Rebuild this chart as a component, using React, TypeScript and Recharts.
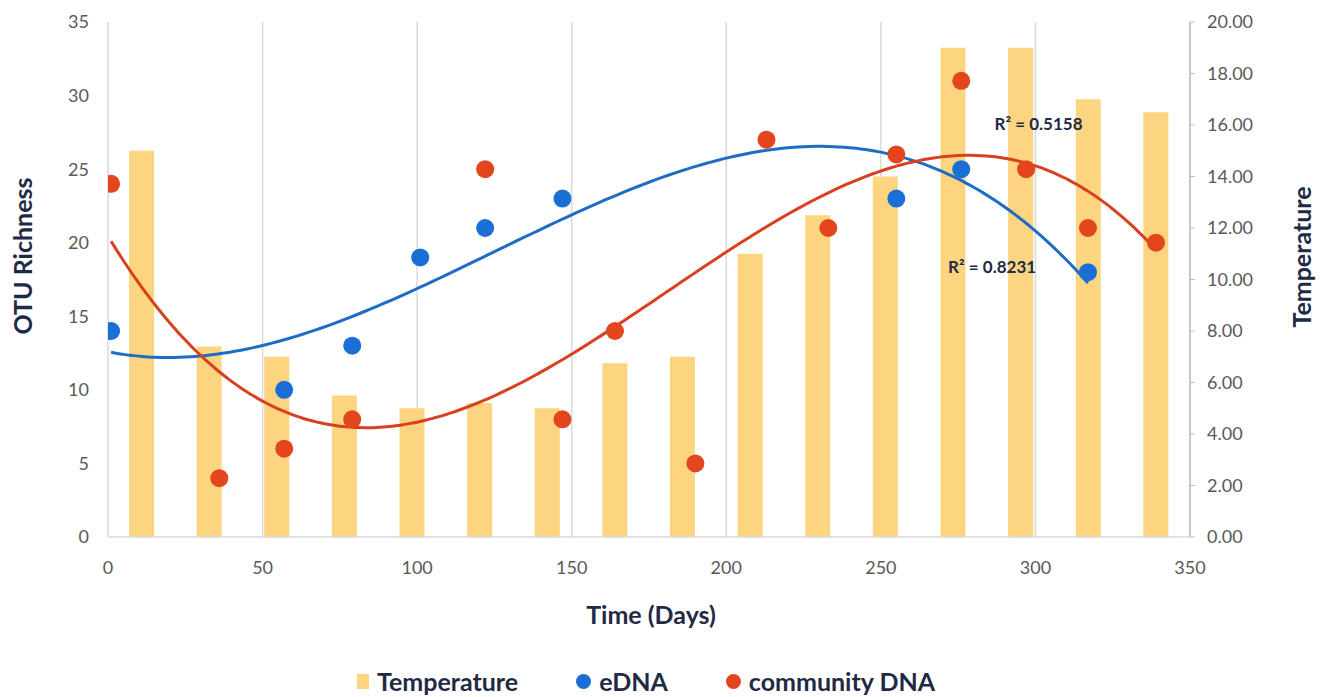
import {
  Bar,
  CartesianGrid,
  ComposedChart,
  Legend,
  Line,
  ReferenceDot,
  Scatter,
  XAxis,
  YAxis,
} from "recharts";

// temperature bars, one per sampling occasion (category axis)
const sampleNames = ["1", "2", "3", "4", "5", "6", "7", "8", "9", "10", "11", "12", "13", "14", "15", "16"];
const temperature = [15.0, 7.4, 7.0, 5.5, 5.0, 5.2, 5.0, 6.75, 7.0, 11.0, 12.5, 14.0, 19.0, 19.0, 17.0, 16.5];

// OTU richness points (numeric time axis)
const ednaDays = [1, 57, 79, 101, 122, 147, 255, 276, 317];
const ednaOtu = [14, 10, 13, 19, 21, 23, 23, 25, 18];
const cdnaDays = [1, 36, 57, 79, 122, 147, 164, 190, 213, 233, 255, 276, 297, 317, 339];
const cdnaOtu = [24, 4, 6, 8, 25, 8, 14, 5, 27, 21, 26, 31, 25, 21, 20];

const xTicks = [0, 50, 100, 150, 200, 250, 300, 350];
const leftTicks = [0, 5, 10, 15, 20, 25, 30, 35];
const rightTicks = [0, 2, 4, 6, 8, 10, 12, 14, 16, 18, 20];

const ednaR2 = "R² = 0.8231";
const cdnaR2 = "R² = 0.5158";

const BAR = "#fdd580";
const BLUE = "#1a6fd6";
const BLUE_LINE = "#1f6cc4";
const RED = "#e3451c";
const RED_LINE = "#d9401f";
const NAVY = "#1f2a44";
const TICK = "#595959";
const FONT = "Lato, 'Open Sans', sans-serif";

// 3rd order polynomial trendline, least squares (like Excel's trendline)
const fitCubic = (xs: number[], ys: number[]) => {
  const n = 4;
  const A: number[][] = Array.from({ length: n }, () => Array(n + 1).fill(0));
  xs.forEach((x, k) => {
    const t = x / 100;
    for (let i = 0; i < n; i++) {
      for (let j = 0; j < n; j++) A[i][j] += t ** (i + j);
      A[i][n] += t ** i * ys[k];
    }
  });
  for (let c = 0; c < n; c++) {
    let p = c;
    for (let r = c + 1; r < n; r++) if (Math.abs(A[r][c]) > Math.abs(A[p][c])) p = r;
    [A[c], A[p]] = [A[p], A[c]];
    for (let r = 0; r < n; r++) {
      if (r === c) continue;
      const f = A[r][c] / A[c][c];
      for (let k = c; k <= n; k++) A[r][k] -= f * A[c][k];
    }
  }
  const coef = A.map((row, i) => row[n] / row[i]);
  return (x: number) => coef.reduce((s, c, i) => s + c * (x / 100) ** i, 0);
};

const trendPoints = (xs: number[], ys: number[]) => {
  const f = fitCubic(xs, ys);
  const lo = Math.min(...xs);
  const hi = Math.max(...xs);
  const pts: { day: number; otu: number }[] = [];
  for (let d = lo; d < hi; d += 2) pts.push({ day: d, otu: f(d) });
  pts.push({ day: hi, otu: f(hi) });
  return pts;
};

const barData = sampleNames.map((s, i) => ({ sample: s, temp: temperature[i] }));
const ednaData = ednaDays.map((d, i) => ({ day: d, otu: ednaOtu[i] }));
const cdnaData = cdnaDays.map((d, i) => ({ day: d, otu: cdnaOtu[i] }));
const ednaTrend = trendPoints(ednaDays, ednaOtu);
const cdnaTrend = trendPoints(cdnaDays, cdnaOtu);

const dot = (color: string) => (p: any) => (
  <circle cx={p.cx} cy={p.cy} r={9} fill={color} />
);

const legendItems = [
  { name: "Temperature", color: BAR, square: true },
  { name: "eDNA", color: BLUE, square: false },
  { name: "community DNA", color: RED, square: false },
];

const renderLegend = () => (
  <div
    style={{
      height: 32,
      display: "flex",
      justifyContent: "center",
      alignItems: "center",
      gap: 58,
      paddingRight: 38,
      fontFamily: FONT,
      fontWeight: 700,
      fontSize: 25,
      color: NAVY,
    }}
  >
    {legendItems.map((it) => (
      <div key={it.name} style={{ display: "flex", alignItems: "center", gap: 8 }}>
        <span
          style={{
            display: "inline-block",
            width: it.square ? 12 : 15,
            height: it.square ? 15 : 15,
            borderRadius: it.square ? 0 : "50%",
            background: it.color,
          }}
        />
        {it.name}
      </div>
    ))}
  </div>
);

const axisTitles = () => (
  <g fontFamily={FONT} fontWeight={700} fontSize={25} fill={NAVY}>
    <text x={32} y={256} textAnchor="middle" transform="rotate(-90, 32, 256)">
      OTU Richness
    </text>
    <text x={1311} y={257} textAnchor="middle" transform="rotate(-90, 1311, 257)">
      Temperature
    </text>
    <text x={651} y={624} textAnchor="middle">
      Time (Days)
    </text>
  </g>
);

const r2Label = (text: string) => (p: any) => (
  <text
    x={p.viewBox.x}
    y={p.viewBox.y + 6}
    textAnchor="middle"
    fontFamily={FONT}
    fontWeight={700}
    fontSize={17}
    fill={NAVY}
  >
    {text}
  </text>
);

const App = () => {
  return (
    <div style={{ position: "absolute", left: 0, top: 0, background: "#fff" }}>
      <ComposedChart
        width={1330}
        height={697}
        data={barData}
        margin={{ top: 22, right: 0, bottom: 0, left: 0 }}
      >
        <CartesianGrid
          xAxisId="num"
          yAxisId="left"
          horizontal={false}
          stroke="#d9d9d9"
          strokeWidth={1.5}
        />
        <XAxis xAxisId="cat" dataKey="sample" type="category" hide height={0} />
        <XAxis
          xAxisId="num"
          dataKey="day"
          type="number"
          domain={[0, 350]}
          ticks={xTicks}
          allowDataOverflow
          height={128}
          axisLine={{ stroke: "#d9d9d9", strokeWidth: 1.5 }}
          tickLine={false}
          tickSize={0}
          tickMargin={24}
          tick={{ fill: TICK, fontSize: 18, fontFamily: FONT }}
        />
        <YAxis
          yAxisId="left"
          domain={[0, 35]}
          ticks={leftTicks}
          width={108}
          axisLine={false}
          tickLine={false}
          tickSize={0}
          tickMargin={19}
          tick={{ fill: TICK, fontSize: 18, fontFamily: FONT }}
        />
        <YAxis
          yAxisId="right"
          orientation="right"
          domain={[0, 20]}
          ticks={rightTicks}
          width={140}
          tickFormatter={(v: number) => v.toFixed(2)}
          axisLine={{ stroke: "#bfbfbf", strokeWidth: 1.5 }}
          tickLine={{ stroke: "#bfbfbf" }}
          tickSize={5}
          tickMargin={12}
          tick={{ fill: TICK, fontSize: 18, fontFamily: FONT }}
        />
        <Bar
          xAxisId="cat"
          yAxisId="right"
          dataKey="temp"
          name="Temperature"
          fill={BAR}
          barSize={25}
          isAnimationActive={false}
        />
        <Scatter
          xAxisId="num"
          yAxisId="left"
          data={ednaData}
          dataKey="otu"
          name="eDNA"
          shape={dot(BLUE)}
          isAnimationActive={false}
        />
        <Scatter
          xAxisId="num"
          yAxisId="left"
          data={cdnaData}
          dataKey="otu"
          name="community DNA"
          shape={dot(RED)}
          isAnimationActive={false}
        />
        <Line
          xAxisId="num"
          yAxisId="left"
          data={ednaTrend}
          dataKey="otu"
          type="monotone"
          stroke={BLUE_LINE}
          strokeWidth={3}
          dot={false}
          activeDot={false}
          legendType="none"
          isAnimationActive={false}
        />
        <Line
          xAxisId="num"
          yAxisId="left"
          data={cdnaTrend}
          dataKey="otu"
          type="monotone"
          stroke={RED_LINE}
          strokeWidth={3}
          dot={false}
          activeDot={false}
          legendType="none"
          isAnimationActive={false}
        />
        <ReferenceDot
          xAxisId="num"
          yAxisId="left"
          x={301}
          y={28.1}
          r={0}
          stroke="none"
          label={r2Label(cdnaR2)}
        />
        <ReferenceDot
          xAxisId="num"
          yAxisId="left"
          x={286}
          y={18.35}
          r={0}
          stroke="none"
          label={r2Label(ednaR2)}
        />
        <Legend verticalAlign="bottom" content={renderLegend} />
        {axisTitles()}
      </ComposedChart>
    </div>
  );
};

export default App;
